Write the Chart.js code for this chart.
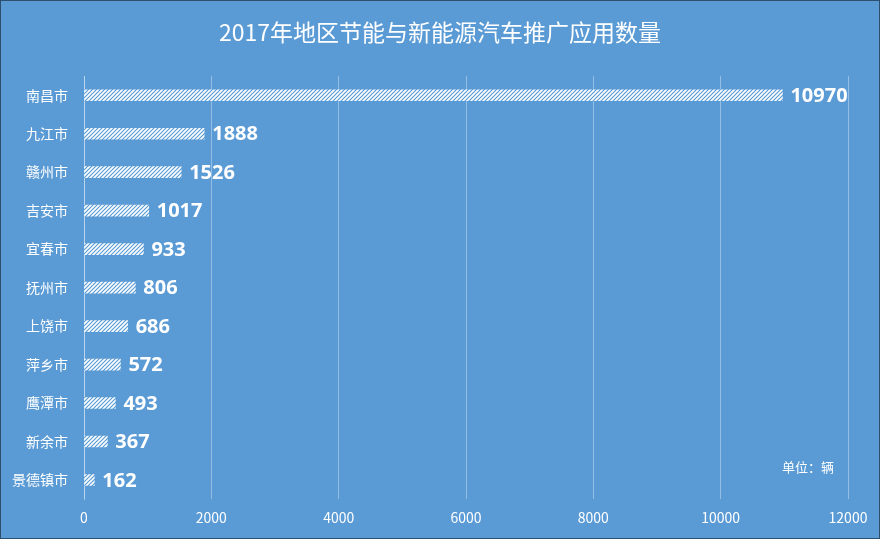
<!DOCTYPE html>
<html lang="zh">
<head>
    <meta charset="UTF-8">
    <title>2017年地区节能与新能源汽车推广应用数量</title>
    <script src="https://cdn.jsdelivr.net/npm/chart.js"></script>
    <style>
        body { margin: 0; background: #5b9bd5; }
        #wrap { width: 878px; height: 537px; border: 1px solid #2f4f6e; background: #5b9bd5; }
    </style>
</head>
<body>
    <div id="wrap"><canvas id="chart" width="878" height="537"></canvas></div>

    <script>
        const cities = ['南昌市', '九江市', '赣州市', '吉安市', '宜春市', '抚州市', '上饶市', '萍乡市', '鹰潭市', '新余市', '景德镇市'];
        const counts = [10970, 1888, 1526, 1017, 933, 806, 686, 572, 493, 367, 162];
        const xTicks = [0, 2000, 4000, 6000, 8000, 10000, 12000];

        const bg = '#5b9bd5';
        const cjk = '"Noto Sans CJK SC", "Noto Sans", sans-serif';
        const titleText = '2017年地区节能与新能源汽车推广应用数量';

        // white bar with thin blue diagonal stripes
        function hatch() {
            const c = document.createElement('canvas');
            c.width = 4;
            c.height = 4;
            const g = c.getContext('2d');
            g.fillStyle = '#ffffff';
            g.fillRect(0, 0, 4, 4);
            g.strokeStyle = bg;
            g.lineWidth = 1.2;
            g.beginPath();
            g.moveTo(0, 4); g.lineTo(4, 0);
            g.moveTo(-1, 1); g.lineTo(1, -1);
            g.moveTo(3, 5); g.lineTo(5, 3);
            g.stroke();
            return g.createPattern(c, 'repeat');
        }

        // title centred on the whole canvas, value labels, unit note
        const extras = {
            id: 'extras',
            afterDatasetsDraw(chart) {
                const ctx = chart.ctx;
                const meta = chart.getDatasetMeta(0);
                ctx.save();
                ctx.fillStyle = '#ffffff';
                ctx.textBaseline = 'middle';

                ctx.font = '23px ' + cjk;
                ctx.textAlign = 'center';
                ctx.fillText(titleText, chart.width / 2, 31);

                ctx.font = 'bold 20px "Open Sans", "Noto Sans", sans-serif';
                ctx.textAlign = 'left';
                meta.data.forEach((bar, i) => {
                    ctx.fillText(String(counts[i]), bar.x + 8, bar.y + 1);
                });

                ctx.font = '13px ' + cjk;
                ctx.textAlign = 'right';
                ctx.fillText('单位：辆', chart.chartArea.right - 14, chart.chartArea.bottom - 32);
                ctx.restore();
            }
        };

        new Chart(document.getElementById('chart'), {
            type: 'bar',
            data: {
                labels: cities,
                datasets: [{
                    data: counts,
                    backgroundColor: hatch(),
                    borderWidth: 0,
                    barThickness: 11
                }]
            },
            options: {
                indexAxis: 'y',
                responsive: false,
                animation: false,
                layout: { padding: { left: 0, right: 31, top: 75, bottom: 2 } },
                plugins: {
                    legend: { display: false },
                    tooltip: { enabled: false },
                    title: { display: false }
                },
                scales: {
                    x: {
                        min: 0,
                        max: 12000,
                        afterBuildTicks(axis) { axis.ticks = xTicks.map(v => ({ value: v })); },
                        grid: { color: 'rgba(255,255,255,0.35)', drawTicks: false },
                        border: { display: false },
                        ticks: {
                            color: '#ffffff',
                            padding: 10,
                            font: { family: cjk, size: 14 },
                            callback: v => String(v)
                        }
                    },
                    y: {
                        afterFit(axis) { axis.width = 83; },
                        grid: { display: false, drawTicks: false },
                        border: { color: 'rgba(255,255,255,0.35)' },
                        ticks: { color: '#ffffff', padding: 16, font: { family: cjk, size: 14 } }
                    }
                }
            },
            plugins: [extras]
        });
    </script>
</body>
</html>
